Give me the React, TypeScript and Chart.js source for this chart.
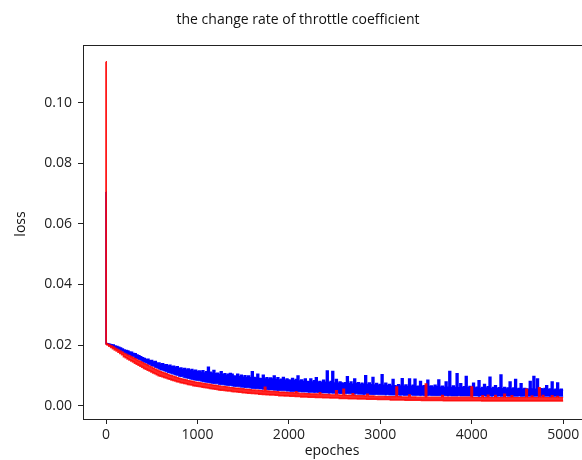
import { useEffect, useRef } from "react";
import { Chart, registerables } from "chart.js";

Chart.register(...registerables);

// Loss values in units of 1e-4.
// Sample epochs: 0, 2, then every 20 epochs from 20 to 5000.
// Each noisy curve is given by the upper and lower edge of its band.

const blueUpper = [
  705, 205,
  204, 203, 201, 200, 197, 195, 193, 190, 187, 184,
  182, 180, 177, 176, 172, 171, 167, 165, 161, 158,
  156, 152, 153, 148, 149, 144, 146, 141, 141, 137,
  138, 134, 135, 131, 133, 128, 130, 126, 128, 123,
  124, 120, 123, 118, 121, 116, 119, 114, 117, 112,
  114, 110, 115, 108, 112, 127, 110, 107, 116, 105,
  107, 103, 112, 102, 105, 100, 104, 106, 104, 98,
  97, 104, 95, 100, 94, 99, 93, 98, 92, 112,
  93, 91, 104, 90, 89, 100, 88, 92, 87, 91,
  88, 98, 86, 92, 85, 87, 93, 84, 88, 85,
  83, 90, 82, 86, 98, 81, 85, 80, 88, 80,
  79, 88, 78, 82, 92, 77, 80, 76, 84, 77,
  114, 76, 80, 113, 75, 86, 74, 78, 75, 73,
  76, 95, 72, 78, 71, 88, 72, 76, 70, 74,
  71, 99, 70, 75, 69, 93, 68, 73, 67, 70,
  102, 67, 74, 66, 70, 65, 86, 66, 64, 69,
  65, 89, 64, 68, 63, 88, 64, 67, 87, 63,
  64, 80, 63, 66, 62, 84, 63, 65, 61, 67,
  62, 85, 61, 64, 60, 78, 61, 113, 60, 65,
  60, 105, 59, 72, 60, 62, 96, 59, 63, 58,
  74, 58, 61, 82, 57, 60, 70, 58, 62, 94,
  57, 60, 66, 56, 59, 101, 56, 60, 55, 58,
  78, 55, 58, 86, 55, 57, 72, 54, 57, 55,
  54, 80, 55, 96, 54, 88, 53, 56, 53, 57,
  66, 53, 55, 78, 52, 54, 75, 52, 54, 51,
];

const blueLower = [
  705, 204,
  202, 199, 196, 193, 191, 188, 185, 182, 179, 175,
  172, 169, 167, 163, 161, 157, 155, 152, 150, 146,
  143, 141, 137, 135, 131, 130, 126, 124, 121, 118,
  117, 114, 112, 109, 108, 105, 104, 101, 100, 97,
  96, 95, 92, 91, 90, 88, 87, 85, 84, 83,
  82, 81, 79, 78, 77, 76, 75, 74, 73, 72,
  72, 70, 69, 69, 68, 67, 66, 66, 65, 64,
  63, 63, 62, 61, 61, 60, 59, 59, 58, 57,
  57, 56, 56, 55, 55, 54, 54, 53, 52, 52,
  52, 51, 51, 50, 50, 49, 49, 49, 48, 48,
  47, 47, 47, 46, 46, 46, 45, 45, 45, 45,
  44, 44, 44, 43, 44, 43, 43, 42, 42, 42,
  42, 41, 42, 41, 41, 40, 41, 40, 40, 40,
  39, 40, 39, 39, 39, 38, 39, 38, 38, 38,
  37, 38, 37, 37, 37, 37, 36, 37, 36, 36,
  36, 36, 35, 36, 35, 35, 35, 35, 35, 35,
  34, 35, 34, 34, 34, 34, 35, 34, 34, 34,
  34, 33, 34, 33, 33, 33, 34, 33, 33, 33,
  33, 33, 33, 32, 33, 33, 32, 33, 32, 32,
  32, 32, 33, 32, 32, 32, 32, 32, 32, 32,
  32, 32, 32, 31, 32, 32, 32, 31, 32, 32,
  31, 32, 31, 31, 32, 31, 31, 31, 32, 31,
  31, 31, 31, 31, 31, 32, 31, 31, 31, 31,
  31, 31, 31, 31, 31, 31, 31, 31, 31, 31,
  31, 31, 30, 31, 31, 31, 30, 31, 31, 31,
];

const redUpper = [
  1135, 205,
  203, 200, 197, 194, 190, 187, 183, 180, 177, 173,
  170, 167, 164, 161, 158, 155, 151, 148, 145, 142,
  139, 136, 133, 130, 127, 124, 121, 118, 115, 112,
  110, 108, 106, 103, 101, 99, 97, 95, 93, 91,
  89, 88, 86, 85, 83, 82, 81, 79, 78, 77,
  76, 75, 74, 73, 72, 71, 70, 69, 68, 67,
  66, 65, 64, 64, 63, 62, 61, 60, 60, 59,
  58, 58, 57, 56, 56, 55, 54, 54, 53, 52,
  52, 51, 51, 50, 50, 49, 61, 49, 48, 47,
  47, 47, 46, 46, 45, 45, 45, 44, 44, 43,
  43, 43, 42, 46, 42, 41, 41, 41, 40, 40,
  40, 39, 39, 39, 39, 38, 43, 38, 37, 37,
  37, 37, 36, 36, 36, 50, 36, 35, 35, 55,
  35, 34, 34, 34, 40, 34, 33, 33, 33, 33,
  33, 32, 38, 32, 32, 32, 31, 31, 31, 31,
  31, 31, 30, 30, 30, 30, 30, 30, 62, 30,
  30, 29, 29, 29, 29, 36, 29, 29, 29, 28,
  28, 28, 28, 28, 72, 28, 28, 28, 28, 28,
  28, 28, 28, 34, 28, 28, 28, 28, 28, 28,
  28, 28, 28, 28, 28, 28, 28, 28, 28, 62,
  27, 27, 27, 27, 27, 33, 27, 27, 35, 27,
  27, 27, 34, 27, 27, 27, 27, 38, 27, 27,
  27, 33, 27, 27, 27, 27, 27, 27, 27, 55,
  27, 27, 32, 27, 27, 27, 60, 27, 34, 27,
  27, 27, 27, 33, 27, 27, 31, 27, 27, 27,
];

const redLower = [
  1135, 203,
  200, 196, 192, 188, 184, 180, 176, 172, 168, 161,
  158, 154, 151, 147, 144, 140, 137, 133, 130, 127,
  123, 120, 117, 114, 111, 108, 105, 102, 99, 97,
  95, 93, 91, 89, 87, 85, 83, 81, 79, 78,
  76, 75, 73, 72, 70, 69, 68, 66, 65, 64,
  63, 62, 61, 60, 59, 58, 57, 56, 55, 54,
  53, 52, 51, 51, 50, 49, 48, 48, 47, 46,
  46, 45, 44, 44, 43, 43, 42, 41, 41, 40,
  40, 39, 39, 38, 38, 37, 37, 36, 36, 35,
  35, 35, 34, 34, 33, 33, 33, 32, 32, 32,
  31, 31, 31, 30, 30, 30, 29, 29, 29, 29,
  28, 28, 28, 28, 27, 27, 27, 27, 26, 26,
  26, 26, 25, 25, 25, 25, 25, 24, 24, 24,
  24, 24, 23, 23, 23, 23, 23, 22, 22, 22,
  22, 22, 21, 21, 21, 21, 21, 21, 20, 20,
  20, 20, 20, 20, 20, 19, 19, 19, 19, 19,
  19, 19, 19, 18, 18, 18, 18, 18, 18, 18,
  18, 18, 17, 17, 17, 17, 17, 17, 17, 17,
  17, 17, 17, 17, 16, 16, 16, 16, 16, 16,
  16, 16, 16, 16, 16, 16, 16, 16, 16, 16,
  16, 16, 16, 16, 16, 15, 15, 15, 15, 15,
  15, 15, 15, 15, 15, 15, 15, 15, 15, 15,
  15, 15, 15, 15, 15, 15, 15, 15, 15, 15,
  15, 15, 15, 15, 15, 15, 15, 15, 15, 15,
  15, 15, 15, 15, 15, 15, 15, 15, 15, 15,
];

const xTicks = [0, 1000, 2000, 3000, 4000, 5000];
const yTicks = [0, 0.02, 0.04, 0.06, 0.08, 0.1];

const titleText = "the change rate of throttle coefficient";
const xLabel = "epoches";
const yLabel = "loss";

const FONT = '"Open Sans", "Noto Sans", sans-serif';

const epochOf = (i: number) => (i === 0 ? 0 : i === 1 ? 2 : (i - 1) * 20);

const framePlugin = {
  id: "frame",
  afterDraw(chart: any) {
    const { ctx, chartArea: a } = chart;
    ctx.save();
    ctx.strokeStyle = "#222";
    ctx.lineWidth = 1;
    ctx.strokeRect(Math.round(a.left) + 0.5, Math.round(a.top) + 0.5, Math.round(a.right - a.left), Math.round(a.bottom - a.top));
    ctx.fillStyle = "#111";
    ctx.font = `14px ${FONT}`;
    ctx.textAlign = "center";
    ctx.textBaseline = "middle";
    ctx.fillText(titleText, 298, 20);
    ctx.fillText(xLabel, 332, 451);
    ctx.translate(21, 224);
    ctx.rotate(-Math.PI / 2);
    ctx.fillText(yLabel, 0, 0);
    ctx.restore();
  },
};

export default function App() {
  const ref = useRef<HTMLCanvasElement | null>(null);

  useEffect(() => {
    document.body.style.margin = "0";
    document.body.style.overflow = "hidden";
    const toPts = (arr: number[]) => arr.map((v, i) => ({ x: epochOf(i), y: v / 10000 }));
    const RED = "rgba(255,0,0,0.85)";
    const BLUE = "rgb(0,0,255)";
    const common = { pointRadius: 0, tension: 0, stepped: "middle" as const };
    const chart = new Chart(ref.current as HTMLCanvasElement, {
      type: "line",
      data: {
        datasets: [
          { label: "red upper", data: toPts(redUpper), borderColor: RED, backgroundColor: RED, fill: "+1", borderWidth: 1.2, ...common },
          { label: "red lower", data: toPts(redLower), borderColor: RED, fill: false, borderWidth: 1.5, ...common },
          { label: "blue upper", data: toPts(blueUpper), borderColor: BLUE, backgroundColor: BLUE, fill: "+1", borderWidth: 1.5, ...common },
          { label: "blue lower", data: toPts(blueLower), borderColor: BLUE, fill: false, borderWidth: 1, ...common },
        ],
      },
      options: {
        responsive: false,
        animation: false,
        devicePixelRatio: 1,
        layout: { padding: { left: 0, top: 45, right: 14, bottom: 0 } },
        plugins: { legend: { display: false }, tooltip: { enabled: false }, title: { display: false } },
        scales: {
          x: {
            type: "linear",
            min: -252,
            max: 5250,
            afterBuildTicks: (s: any) => {
              s.ticks = xTicks.map((v) => ({ value: v }));
            },
            afterFit: (s: any) => {
              s.height = 41;
            },
            ticks: {
              callback: (v: any) => String(v),
              font: { family: FONT, size: 14 },
              color: "#222",
              padding: 3,
              maxRotation: 0,
              autoSkip: false,
            },
            grid: { drawOnChartArea: false, drawTicks: true, tickLength: 5, color: "#222" },
            border: { display: true, color: "#222" },
          },
          y: {
            type: "linear",
            min: -0.0044,
            max: 0.119,
            afterBuildTicks: (s: any) => {
              s.ticks = yTicks.map((v) => ({ value: v }));
            },
            afterFit: (s: any) => {
              s.width = 83;
            },
            ticks: {
              callback: (v: any) => Number(v).toFixed(2),
              font: { family: FONT, size: 14 },
              color: "#222",
              padding: 6,
              autoSkip: false,
            },
            grid: { drawOnChartArea: false, drawTicks: true, tickLength: 5, color: "#222" },
            border: { display: true, color: "#222" },
          },
        },
      },
      plugins: [framePlugin],
    });
    return () => chart.destroy();
  }, []);

  return (
    <div style={{ position: "fixed", left: 0, top: 0, width: 600, height: 460 }}>
      <canvas ref={ref} width={600} height={460} style={{ display: "block", width: 600, height: 460 }} />
    </div>
  );
}
